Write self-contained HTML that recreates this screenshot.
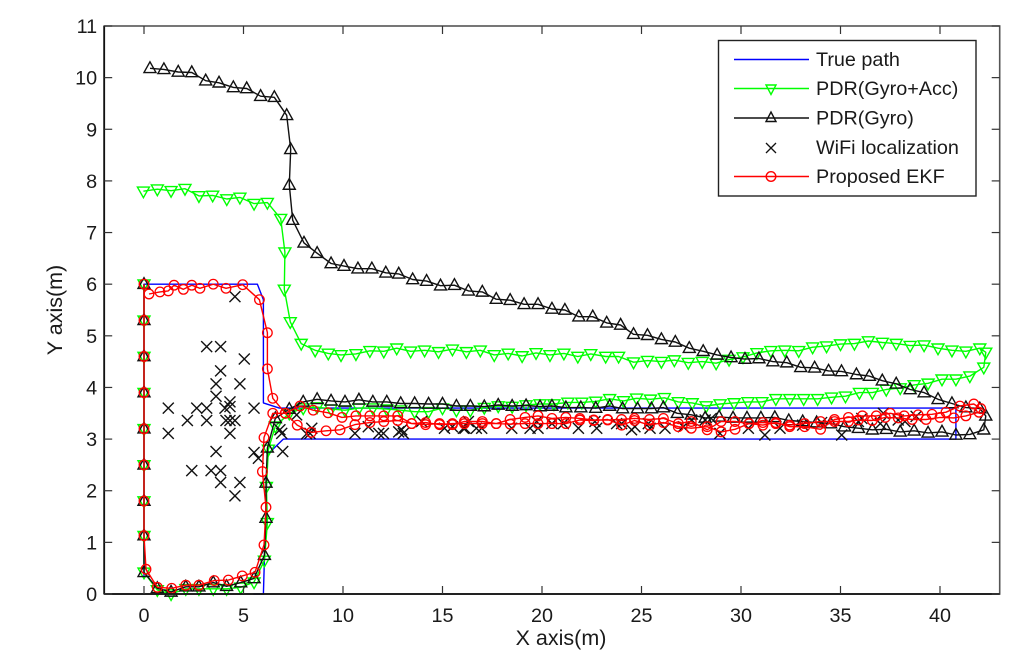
<!DOCTYPE html>
<html lang="en">
<head>
<meta charset="utf-8">
<title>Localization path comparison chart</title>
<style>
html,body{margin:0;padding:0;background:#fff;}
svg{display:block;font-family:"Liberation Sans",Arial,sans-serif;}
text{fill:#1a1a1a;}
</style>
</head>
<body>
<svg id="chart" xmlns="http://www.w3.org/2000/svg" width="1024" height="664" viewBox="0 0 1024 664">
  <rect x="0" y="0" width="1024" height="664" fill="#fff"/>
  <g id="series-layer"></g>
  <g id="axes-layer"></g>
  <text x="561" y="645" font-size="21.5" text-anchor="middle">X axis(m)</text>
  <text x="0" y="0" font-size="21.5" text-anchor="middle" transform="translate(62 310) rotate(-90)">Y axis(m)</text>
  <g>
    <rect x="718.5" y="40.5" width="257.5" height="155.5" fill="#fff" stroke="#222" stroke-width="1.4"/>
    <g>
      <line x1="734" x2="809" y1="59.5" y2="59.5" stroke="#0000ff" stroke-width="1.4"/>
      <text x="816" y="66" font-size="19.8">True path</text>
    </g>
    <g>
      <line x1="734" x2="809" y1="88.5" y2="88.5" stroke="#00ff00" stroke-width="1.4"/>
      <path d="M766,85 L776,85 L771,94.5 Z" fill="none" stroke="#00ff00" stroke-width="1.4"/>
      <text x="816" y="95" font-size="19.8">PDR(Gyro+Acc)</text>
    </g>
    <g>
      <line x1="734" x2="809" y1="118" y2="118" stroke="#111" stroke-width="1.4"/>
      <path d="M766,121.5 L776,121.5 L771,112 Z" fill="none" stroke="#111" stroke-width="1.4"/>
      <text x="816" y="124.5" font-size="19.8">PDR(Gyro)</text>
    </g>
    <g>
      <path d="M766,143 L776,153 M776,143 L766,153" fill="none" stroke="#111" stroke-width="1.3"/>
      <text x="816" y="154" font-size="19.8">WiFi localization</text>
    </g>
    <g>
      <line x1="734" x2="809" y1="176.5" y2="176.5" stroke="#ff0000" stroke-width="1.4"/>
      <circle cx="771" cy="176.5" r="4.8" fill="none" stroke="#ff0000" stroke-width="1.4"/>
      <text x="816" y="183" font-size="19.8">Proposed EKF</text>
    </g>
  </g>
</svg>
<script>
var xTickLabels = [0, 5, 10, 15, 20, 25, 30, 35, 40];
var yTickLabels = [0, 1, 2, 3, 4, 5, 6, 7, 8, 9, 10, 11];

var trueX = [0, 0, 5.7, 6, 6, 6.8, 40.8, 40.8, 7, 6.2, 6, 5.5];
var trueY = [0.35, 6, 6, 5.7, 3.7, 3.6, 3.6, 3, 3, 2.7, 0, 0];

var greenX = [0,0,0,0,0,0,0,0,0,.67,1.36,2.1,2.76,3.48,4.15,4.86,5.53,6.05,6.2,6.15,6.25,6.6,7.3,8,8.7,9.4,
10.1,10.8,11.5,12.2,12.9,13.6,14.3,15,15.7,16.4,17.1,17.8,18.5,19.2,19.9,20.6,21.3,22,22.7,23.4,24.1,24.75,25.45,
26.15,26.85,27.55,28.25,28.95,29.65,30.35,31.05,31.75,32.45,33.15,33.85,34.55,35.25,35.95,36.6,37.3,38,38.7,39.4,40.1,40.8,41.5,42.2,
42.3,42,41.3,40.6,39.9,39.2,38.5,37.8,37.1,36.4,35.7,35,34.3,33.6,32.9,32.2,31.5,30.8,30.1,29.4,28.75,28.05,27.35,26.65,26,
25.3,24.6,23.85,23.2,22.45,21.8,21.1,20.4,19.7,19,18.3,17.6,16.9,16.2,15.5,14.8,14.1,13.4,12.7,12.05,11.35,10.65,9.9,9.26,8.6,7.9,7.35,7.05,7.08,6.87,6.2,5.53,4.82,4.16,3.45,2.76,2.06,1.36,.67,-.03];
var greenY = [6,5.3,4.6,3.9,3.2,2.5,1.8,1.13,.42,.08,0,.1,.1,.1,.1,.13,.23,.65,1.38,2.08,2.8,3.25,3.5,3.6,3.62,3.58,
3.56,3.6,3.6,3.58,3.56,3.53,3.53,3.6,3.56,3.56,3.61,3.64,3.63,3.66,3.68,3.68,3.71,3.71,3.73,3.78,3.74,3.79,3.77,
3.8,3.72,3.7,3.64,3.68,3.7,3.72,3.72,3.78,3.78,3.78,3.78,3.81,3.83,3.9,3.9,3.96,3.99,4.05,4.08,4.16,4.16,4.22,4.39,
4.68,4.76,4.7,4.72,4.76,4.82,4.81,4.85,4.87,4.9,4.85,4.84,4.8,4.78,4.71,4.72,4.71,4.67,4.59,4.54,4.47,4.5,4.48,4.53,4.5,
4.52,4.49,4.6,4.6,4.65,4.6,4.66,4.63,4.67,4.61,4.66,4.63,4.72,4.69,4.74,4.69,4.72,4.7,4.76,4.7,4.71,4.65,4.63,4.66,4.72,4.85,5.27,5.9,6.62,7.27,7.58,7.56,7.68,7.65,7.72,7.71,7.85,7.81,7.84,7.8];

var blackX = [0,0,0,0,0,0,0,0,0,.67,1.36,2.1,2.76,3.48,4.15,4.86,5.53,6.05,6.13,6.13,6.2,6.6,7.3,8,8.7,9.4,
10.1,10.8,11.5,12.2,12.9,13.6,14.3,15,15.7,16.4,17.1,17.8,18.5,19.2,19.9,20.5,21.2,21.95,22.7,23.4,24.05,24.8,25.5,
26.1,26.8,27.5,28.2,28.9,29.6,30.3,31,31.7,32.4,33.1,33.8,34.5,35.2,35.9,36.6,37.3,38,38.7,39.4,40.1,40.8,41.5,42.2,42.3,
42,41.3,40.6,39.9,39.2,38.5,37.8,37.1,36.45,35.8,35.05,34.4,33.7,33,32.3,31.6,30.9,30.2,29.5,28.8,28.1,27.4,26.7,26,
25.3,24.6,23.95,23.25,22.55,21.85,21.15,20.5,19.8,19.1,18.4,17.7,17,16.3,15.6,14.9,14.2,13.5,12.8,12.15,11.45,10.75,10.05,9.4,8.7,8.04,7.47,7.3,7.37,7.17,6.55,5.86,5.16,4.49,3.77,3.1,2.4,1.72,1,.3];
var blackY = [6,5.3,4.6,3.9,3.2,2.5,1.8,1.13,.42,.11,.04,.14,.14,.22,.15,.22,.3,.75,1.47,2.15,2.83,3.4,3.58,3.72,3.77,3.74,
3.72,3.76,3.72,3.72,3.69,3.69,3.68,3.68,3.64,3.64,3.63,3.66,3.64,3.65,3.63,3.64,3.61,3.61,3.6,3.64,3.59,3.59,3.59,
3.61,3.5,3.47,3.41,3.43,3.41,3.41,3.41,3.42,3.36,3.34,3.32,3.3,3.24,3.21,3.18,3.19,3.14,3.16,3.12,3.14,3.08,3.09,3.18,3.45,
3.59,3.61,3.69,3.77,3.9,3.96,4.07,4.13,4.22,4.25,4.31,4.32,4.38,4.39,4.48,4.5,4.56,4.55,4.58,4.63,4.7,4.76,4.88,4.93,
5.01,5.03,5.21,5.25,5.37,5.37,5.5,5.52,5.61,5.61,5.69,5.71,5.85,5.87,5.98,5.97,6.06,6.09,6.2,6.22,6.3,6.3,6.35,6.4,6.6,6.8,7.24,7.92,8.61,9.27,9.62,9.64,9.79,9.81,9.9,9.94,10.1,10.11,10.16,10.18];

var wifiX = [4.57,3.15,3.85,5.04,3.85,3.62,4.82,3.62,4.32,1.22,2.65,3.15,4.07,4.32,5.53,2.18,3.15,4.12,4.32,4.57,1.22,4.32,3.62,5.53,5.75,6.97,2.4,3.37,3.85,3.85,4.82,4.57,
6.83,6.92,7.67,8.43,8.17,8.34,10.6,11.27,11.8,12.03,12.95,12.8,13.03,13.95,15.1,15.5,16.05,
16.3,16.13,16.7,16.97,18.48,19.4,19.73,19.8,20.5,21.07,21.83,22.75,22.66,23.75,24,24.5,24.67,25.34,25.43,
26.18,27.1,27.52,28.2,28.5,28.94,30.37,31.2,31.96,33.1,34.05,35.06,35.9,36.07,37,37.15,37.9,38.24,38.8];
var wifiY = [5.76,4.79,4.79,4.55,4.32,4.07,4.07,3.83,3.72,3.6,3.6,3.6,3.6,3.63,3.6,3.36,3.36,3.36,3.36,3.36,3.11,3.11,2.76,2.74,2.63,2.76,2.39,2.39,2.39,2.16,2.16,1.9,
3.18,3.11,3.47,3.21,3.1,3.11,3.11,3.24,3.11,3.11,3.18,3.14,3.11,3.34,3.21,3.24,3.21,
3.34,3.21,3.21,3.21,3.21,3.21,3.34,3.21,3.3,3.3,3.21,3.21,3.34,3.3,3.3,3.18,3.24,3.3,3.21,
3.21,3.24,3.37,3.37,3.4,3.11,3.21,3.08,3.21,3.27,3.32,3.08,3.34,3.4,3.3,3.5,3.37,3.34,3.44];

var redX = [0,0,0,0,0,0,0,0,.1,.67,1.39,2.1,2.76,3.53,4.24,4.94,5.58,6.03,6.13,5.95,6.03,6.47,7.1,7.84,8.5,9.25,9.95,10.65,11.35,12.05,12.75,13.45,14.15,14.85,15.5,
16.1,17,17.7,18.4,19.15,19.8,20.5,21.2,21.9,22.6,23.3,24,24.65,25.4,26.1,26.85,27.5,28.3,29,29.7,30.4,31.1,31.75,32.45,33.2,34,34.7,35.4,35.9,36.6,37.25,37.9,38.6,39.3,40,40.7,41.3,41.96,42.05,
41.7,41,40.3,39.6,38.9,38.2,37.5,36.8,36.1,35.4,34.7,34,33.2,32.45,31.75,31.1,30.4,29.7,29,28.3,27.5,26.85,26.1,25.4,24.65,24,23.3,22.6,21.9,21.2,20.5,19.8,19.15,18.4,17.7,17,16.1,15.5,14.85,14.15,13.45,12.75,12.05,11.35,10.6,9.85,9.15,8.4,7.7,7.1,6.47,6.2,6.2,5.8,4.96,4.12,3.48,2.81,2.4,1.98,1.51,1.22,.8,.25];
var redY = [6,5.3,4.6,3.9,3.2,2.5,1.8,1.13,.48,.13,.11,.17,.17,.26,.27,.35,.42,.95,1.68,2.37,3.03,3.5,3.5,3.64,3.56,3.51,3.42,3.45,3.45,3.45,3.45,3.3,3.28,3.3,3.28,
3.34,3.34,3.3,3.38,3.42,3.45,3.4,3.42,3.4,3.37,3.37,3.38,3.4,3.38,3.4,3.3,3.34,3.18,3.34,3.34,3.3,3.32,3.3,3.27,3.3,3.34,3.34,3.34,3.37,3.36,3.42,3.41,3.38,3.38,3.42,3.41,3.45,3.52,3.59,
3.68,3.64,3.52,3.48,3.47,3.45,3.5,3.45,3.45,3.42,3.38,3.19,3.24,3.24,3.32,3.27,3.3,3.19,3.14,3.24,3.21,3.24,3.32,3.27,3.36,3.27,3.38,3.36,3.37,3.3,3.3,3.3,3.3,3.29,3.3,3.3,3.3,3.3,3.28,3.32,3.3,3.36,3.34,3.32,3.28,3.18,3.16,3.13,3.27,3.5,3.79,4.36,5.06,5.7,5.99,5.92,6,5.92,5.98,5.9,5.98,5.87,5.85,5.81];

var xMin = -2, xMax = 43, yMin = 0, yMax = 11;
var plotLeft = 104.2, plotRight = 999.7, plotTop = 26, plotBottom = 594;
var NS = 'http://www.w3.org/2000/svg';
var seriesLayer = document.getElementById('series-layer');
var axesLayer = document.getElementById('axes-layer');

function xScale(v) { return plotLeft + (v - xMin) / (xMax - xMin) * (plotRight - plotLeft); }
function yScale(v) { return plotBottom - (v - yMin) / (yMax - yMin) * (plotBottom - plotTop); }

function make(tag, parent) {
  var el = document.createElementNS(NS, tag);
  parent.appendChild(el);
  return el;
}

function drawLine(xs, ys, color, name) {
  var el = make('polyline', seriesLayer);
  
  
  var pts = [];
  for (var i = 0; i < xs.length; i++) pts.push(xScale(xs[i]).toFixed(1) + ',' + yScale(ys[i]).toFixed(1));
  el.setAttribute('points', pts.join(' '));
  el.setAttribute('fill', 'none');
  el.setAttribute('stroke', color);
  el.setAttribute('stroke-width', '1.4');
  el.setAttribute('stroke-linejoin', 'round');
}

function markerPath(kind, cx, cy) {
  if (kind === 'down') return 'M' + (cx - 6) + ',' + (cy - 4.2) + ' L' + (cx + 6) + ',' + (cy - 4.2) + ' L' + cx + ',' + (cy + 6.5) + ' Z';
  if (kind === 'up') return 'M' + (cx - 6) + ',' + (cy + 4.2) + ' L' + (cx + 6) + ',' + (cy + 4.2) + ' L' + cx + ',' + (cy - 6.5) + ' Z';
  return 'M' + (cx - 5.5) + ',' + (cy - 5.5) + ' L' + (cx + 5.5) + ',' + (cy + 5.5) + ' M' + (cx + 5.5) + ',' + (cy - 5.5) + ' L' + (cx - 5.5) + ',' + (cy + 5.5);
}

function drawPathMarkers(xs, ys, kind, color, name) {
  for (var i = 0; i < xs.length; i++) {
    var el = make('path', seriesLayer);
    
    
    el.setAttribute('d', markerPath(kind, xScale(xs[i]), yScale(ys[i])));
    el.setAttribute('fill', 'none');
    el.setAttribute('stroke', color);
    el.setAttribute('stroke-width', '1.4');
  }
}

function drawCircles(xs, ys, color, name) {
  for (var i = 0; i < xs.length; i++) {
    var el = make('circle', seriesLayer);
    
    
    el.setAttribute('cx', xScale(xs[i]));
    el.setAttribute('cy', yScale(ys[i]));
    el.setAttribute('r', '4.8');
    el.setAttribute('fill', 'none');
    el.setAttribute('stroke', color);
    el.setAttribute('stroke-width', '1.3');
  }
}

drawLine(trueX, trueY, '#0000ff', 'true-path-line');
drawLine(greenX, greenY, '#00ff00', 'pdr-gyro-acc-line');
drawPathMarkers(greenX, greenY, 'down', '#00ff00', 'pdr-gyro-acc-point');
drawLine(blackX, blackY, '#111111', 'pdr-gyro-line');
drawPathMarkers(blackX, blackY, 'up', '#111111', 'pdr-gyro-point');
drawPathMarkers(wifiX, wifiY, 'cross', '#111111', 'wifi-localization-point');
drawLine(redX, redY, '#ff0000', 'proposed-ekf-line');
drawCircles(redX, redY, '#ff0000', 'proposed-ekf-point');

function tick(x1, y1, x2, y2, name) {
  var el = make('line', axesLayer);
  
  
  el.setAttribute('x1', x1);
  el.setAttribute('y1', y1);
  el.setAttribute('x2', x2);
  el.setAttribute('y2', y2);
  el.setAttribute('stroke', '#333');
  el.setAttribute('stroke-width', '1.2');
}

var frame = make('rect', axesLayer);


frame.setAttribute('x', plotLeft);
frame.setAttribute('y', plotTop);
frame.setAttribute('width', plotRight - plotLeft);
frame.setAttribute('height', plotBottom - plotTop);
frame.setAttribute('fill', 'none');
frame.setAttribute('stroke', '#555');
frame.setAttribute('stroke-width', '1.6');

var axisX = make('line', axesLayer);


axisX.setAttribute('x1', plotLeft);
axisX.setAttribute('x2', plotRight);
axisX.setAttribute('y1', plotBottom);
axisX.setAttribute('y2', plotBottom);
axisX.setAttribute('stroke', '#111');
axisX.setAttribute('stroke-width', '1.8');

var axisY = make('line', axesLayer);


axisY.setAttribute('x1', plotLeft);
axisY.setAttribute('x2', plotLeft);
axisY.setAttribute('y1', plotTop);
axisY.setAttribute('y2', plotBottom);
axisY.setAttribute('stroke', '#111');
axisY.setAttribute('stroke-width', '1.8');

xTickLabels.forEach(function (v) {
  var px = xScale(v);
  tick(px, plotBottom, px, plotBottom - 8, 'x-tick');
  tick(px, plotTop, px, plotTop + 8, 'x-tick-top');
  var t = make('text', axesLayer);
  
  
  t.setAttribute('x', px);
  t.setAttribute('y', plotBottom + 28);
  t.setAttribute('font-size', '19.8');
  t.setAttribute('text-anchor', 'middle');
  t.textContent = v;
});

yTickLabels.forEach(function (v) {
  var py = yScale(v);
  tick(plotLeft, py, plotLeft + 8, py, 'y-tick');
  tick(plotRight, py, plotRight - 8, py, 'y-tick-right');
  var t = make('text', axesLayer);
  
  
  t.setAttribute('x', plotLeft - 7);
  t.setAttribute('y', py + 7);
  t.setAttribute('font-size', '19.8');
  t.setAttribute('text-anchor', 'end');
  t.textContent = v;
});
</script>
</body>
</html>
